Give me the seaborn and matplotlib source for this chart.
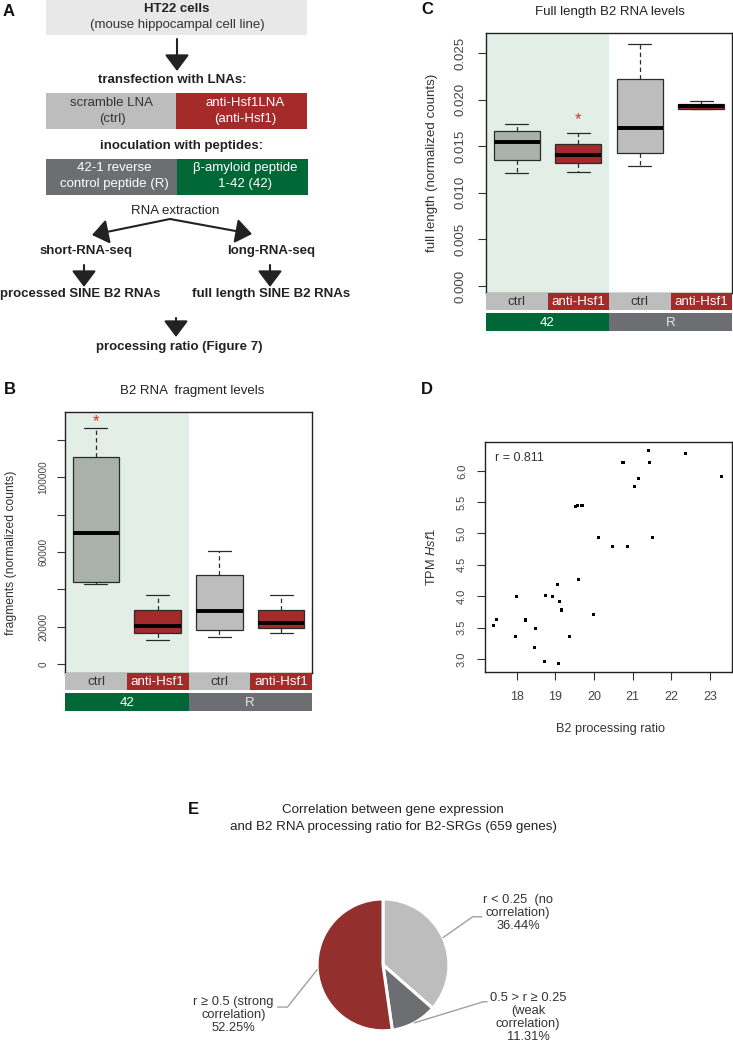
import numpy as np
import pandas as pd
import matplotlib
matplotlib.use("Agg")
import matplotlib.pyplot as plt
import seaborn as sns

# boxes: min, q1, median, q3, max
groups = ["42 ctrl", "42 anti-Hsf1", "R ctrl", "R anti-Hsf1"]
treat_labels = ["ctrl", "anti-Hsf1", "ctrl", "anti-Hsf1"]
peptide_labels = ["42", "R"]

frag_42_ctrl = [43200, 44100, 70000, 110500, 126400]
frag_42_anti = [13000, 16800, 20500, 28900, 37300]
frag_R_ctrl = [14500, 18600, 28600, 47500, 60700]
frag_R_anti = [17000, 19300, 22300, 29300, 36800]

full_42_ctrl = [0.01209, 0.01352, 0.01549, 0.01663, 0.01738]
full_42_anti = [0.01227, 0.01316, 0.01409, 0.01520, 0.01638]
full_R_ctrl = [0.01291, 0.01423, 0.01699, 0.02217, 0.02600]
full_R_anti = [0.01900, 0.01903, 0.01928, 0.01949, 0.01981]

# panel D
b2_ratio = [17.40, 17.48, 18.00, 17.98, 18.22, 18.48, 18.45, 18.74, 18.73, 18.92,
            19.06, 19.10, 19.17, 19.07, 19.36, 19.53, 19.58, 19.69, 19.61, 19.99,
            20.12, 20.47, 20.75, 20.87, 21.05, 21.14, 21.42, 21.44, 21.52, 22.36, 23.30]
tpm_hsf1 = [3.53, 3.63, 3.99, 3.35, 3.62, 3.49, 3.18, 4.01, 2.96, 3.99,
            4.18, 3.92, 3.78, 2.93, 3.35, 5.43, 5.45, 5.45, 4.27, 3.71,
            4.94, 4.79, 6.14, 4.79, 5.75, 5.88, 6.32, 6.14, 4.94, 6.27, 5.91]

# panel E
pie_pct = [36.44, 11.31, 52.25]
pie_labels = ["r < 0.25  (no\ncorrelation)\n36.44%",
              "0.5 > r \u2265 0.25\n(weak\ncorrelation)\n11.31%",
              "r \u2265 0.5 (strong\ncorrelation)\n52.25%"]

GREY = "#bdbdbd"
RED = "#a52a2a"
GREEN = "#006837"
DGREY = "#6d6e71"
SHADE = "#e3eee7"

sns.set_style("ticks")
plt.rcParams["font.family"] = ["Liberation Sans", "DejaVu Sans"]
plt.rcParams["mathtext.fontset"] = "custom"
plt.rcParams["mathtext.rm"] = "Liberation Sans"
plt.rcParams["mathtext.it"] = "Liberation Sans:italic"

W, H = 733, 1043
fig = plt.figure(figsize=(W / 100, H / 100), dpi=100)


def box_at(x0, y0, x1, y1):
    # pixel box -> figure fraction
    return [x0 / W, 1 - y1 / H, (x1 - x0) / W, (y1 - y0) / H]


def ftext(px, py, s, **kw):
    fig.text(px / W, 1 - py / H, s, **kw)


def style_axis(ax, ysize, ypad):
    for sp in ax.spines.values():
        sp.set_visible(True)
        sp.set_linewidth(1.0)
        sp.set_color("#222222")
    ax.tick_params(length=6, width=0.8, color="#333333", labelcolor="#444444")
    ax.tick_params(axis="y", labelrotation=90, labelsize=ysize, pad=ypad)
    for lab in ax.get_yticklabels():
        lab.set_va("center")


def box_panel(rect, values, ylim, yticks, ylabels, ysize, ypad, star_x, star_y):
    ax = fig.add_axes(rect)
    df = pd.DataFrame({"group": np.repeat(groups, 5), "value": np.concatenate(values)})
    ax.axvspan(-0.5, 1.5, color=SHADE, lw=0, zorder=0)
    sns.boxplot(data=df, x="group", y="value", hue="group", order=groups,
                hue_order=groups, palette=["#a9b1ab", "#a3292b", GREY, RED],
                saturation=1, whis=(0, 100), width=0.75, linecolor="#2b2b2b",
                linewidth=0.9, legend=False, ax=ax,
                whiskerprops={"linestyle": (0, (3.5, 2.5))},
                medianprops={"color": "black", "linewidth": 2.8})
    ax.set_xlim(-0.5, 3.5)
    ax.set_ylim(*ylim)
    ax.set_xticks([])
    ax.set_xlabel("")
    ax.set_ylabel("")
    ax.set_yticks(yticks)
    ax.set_yticklabels(ylabels)
    style_axis(ax, ysize, ypad)
    ax.text(star_x, star_y, "*", color="#e8262a", ha="center", va="center", fontsize=12)

    # condition strips below the plot
    pos = ax.get_position()
    h1, gap, h2 = 17 / H, 3 / H, 18 / H
    s1 = fig.add_axes([pos.x0, pos.y0 - h1, pos.width, h1])
    s2 = fig.add_axes([pos.x0, pos.y0 - h1 - gap - h2, pos.width, h2])
    for i, lab in enumerate(treat_labels):
        is_ctrl = lab == "ctrl"
        s1.axvspan(i - 0.5, i + 0.5, color=GREY if is_ctrl else RED, lw=0)
        s1.text(i, 0.45, lab, ha="center", va="center", fontsize=9.6,
                color="#333333" if is_ctrl else "white")
    for j, lab in enumerate(peptide_labels):
        s2.axvspan(2 * j - 0.5, 2 * j + 1.5, color=GREEN if j == 0 else DGREY, lw=0)
        s2.text(2 * j + 0.5, 0.45, lab, ha="center", va="center", fontsize=9.6,
                color="white" if j == 0 else "#e6e6e6")
    for s in (s1, s2):
        s.set_xlim(-0.5, 3.5)
        s.set_ylim(0, 1)
        s.axis("off")
    return ax


# ---- panel A: workflow ----
axA = fig.add_axes([0, 1 - 380 / H, 370 / W, 380 / H])
axA.set_xlim(0, 370)
axA.set_ylim(380, 0)
axA.axis("off")


def rect(x0, y0, x1, y1, col):
    axA.add_patch(plt.Rectangle((x0, y0), x1 - x0, y1 - y0, color=col, lw=0))


def arrow(x0, y0, x1, y1):
    axA.annotate("", xy=(x1, y1), xytext=(x0, y0),
                 arrowprops=dict(arrowstyle="-|>,head_length=0.4,head_width=0.3",
                                 color="#222222", lw=1.5,
                                 mutation_scale=25, shrinkA=0, shrinkB=0))


def atext(x, y, s, bold=False, color="#333333"):
    axA.text(x, y, s, ha="center", va="center", fontsize=9.5,
             fontweight="bold" if bold else "normal", color=color)


rect(46, 0, 307, 35, "#e8e8e9")
atext(177, 9, "HT22 cells", bold=True, color="#222222")
atext(177, 25, "(mouse hippocampal cell line)")
arrow(177, 39, 177, 71)
atext(172, 80, "transfection with LNAs:", bold=True, color="#222222")
rect(46, 93, 176, 129, GREY)
rect(176, 93, 307, 129, RED)
atext(112, 103, "scramble LNA")
atext(112, 119, "(ctrl)")
atext(245, 103, "anti-Hsf1LNA", color="white")
atext(245, 119, "(anti-Hsf1)", color="white")
atext(181, 146, "inoculation with peptides:", bold=True, color="#222222")
rect(46, 159, 177, 195, DGREY)
rect(177, 159, 308, 195, GREEN)
atext(114, 168, "42-1 reverse", color="white")
atext(114, 184, "control peptide (R)", color="white")
atext(245, 168, "\u03b2-amyloid peptide", color="white")
atext(245, 184, "1-42 (42)", color="white")
atext(175, 211, "RNA extraction", color="#222222")
arrow(170, 219, 92, 235)
arrow(170, 219, 252, 234)
atext(86, 251, "short-RNA-seq", bold=True, color="#222222")
atext(271, 251, "long-RNA-seq", bold=True, color="#222222")
arrow(84, 265, 84, 287)
arrow(270, 265, 270, 287)
atext(80, 294, "processed SINE B2 RNAs", bold=True, color="#222222")
atext(271, 294, "full length SINE B2 RNAs", bold=True, color="#222222")
arrow(176, 318, 176, 337)
atext(179, 347, "processing ratio (Figure 7)", bold=True, color="#222222")

# ---- panel B ----
box_panel(box_at(65, 412, 312, 673), [frag_42_ctrl, frag_42_anti, frag_R_ctrl, frag_R_anti],
          (-4600, 134800), [0, 20000, 40000, 60000, 80000, 100000, 120000],
          ["0", "20000", "", "60000", "", "100000", ""], 7.2, 6, 0, 129500)
ftext(192, 391, "B2 RNA  fragment levels", ha="center", va="center", fontsize=9.5, color="#222222")
ftext(11, 553, "fragments (normalized counts)", ha="center", va="center", rotation=90, fontsize=8.7, color="#333333")

# ---- panel C ----
box_panel(box_at(486, 33, 732, 293), [full_42_ctrl, full_42_anti, full_R_ctrl, full_R_anti],
          (-0.00075, 0.02715), [0, 0.005, 0.010, 0.015, 0.020, 0.025],
          ["0.000", "0.005", "0.010", "0.015", "0.020", "0.025"], 9.5, 8, 1, 0.01785)
ftext(610, 12, "Full length B2 RNA levels", ha="center", va="center", fontsize=9.5, color="#222222")
ftext(432, 163, "full length (normalized counts)", ha="center", va="center", rotation=90, fontsize=9.6, color="#333333")

# ---- panel D ----
axD = fig.add_axes(box_at(485, 442, 732, 672))
sns.scatterplot(x=b2_ratio, y=tpm_hsf1, marker="s", s=5, color="black", edgecolor="none", ax=axD)
axD.set_xlim(17.18, 23.57)
axD.set_ylim(2.79, 6.46)
axD.set_xticks([18, 19, 20, 21, 22, 23])
axD.set_yticks([3.0, 3.5, 4.0, 4.5, 5.0, 5.5, 6.0])
axD.set_yticklabels(["3.0", "3.5", "4.0", "4.5", "5.0", "5.5", "6.0"])
style_axis(axD, 8, 7)
axD.tick_params(axis="x", labelsize=9, pad=8)
axD.text(0.04, 0.93, "r = 0.811", transform=axD.transAxes, ha="left", va="center", fontsize=9, color="#333333")
ftext(610, 729, "B2 processing ratio", ha="center", va="center", fontsize=9.2, color="#333333")
ftext(432, 557, "TPM $\\mathit{Hsf1}$", ha="center", va="center", rotation=90, fontsize=9.2, color="#333333")

# ---- panel E ----
axE = fig.add_axes(box_at(158.6, 866, 607.4, 1042))
wedges, _ = axE.pie(pie_pct, colors=[GREY, DGREY, "#93302d"], startangle=90,
                    counterclock=False, radius=1,
                    wedgeprops=dict(edgecolor="white", linewidth=2.2))
axE.set_xlim(-3.4, 3.4)
axE.set_ylim(-1.17, 1.5)
elbows = [[(1.36, 0.73), (1.5, 0.73)], [(1.52, -0.56), (1.58, -0.56)], [(-1.45, -0.64), (-1.6, -0.64)]]
text_pos = [(2.05, 0.79), (2.2, -0.80), (-2.27, -0.76)]
for w, pts, tp, lab in zip(wedges, elbows, text_pos, pie_labels):
    ang = np.deg2rad((w.theta1 + w.theta2) / 2)
    xs = [np.cos(ang)] + [p[0] for p in pts]
    ys = [np.sin(ang)] + [p[1] for p in pts]
    axE.plot(xs, ys, color="#a0a0a0", lw=1.0, clip_on=False)
    axE.text(tp[0], tp[1], lab, ha="center", va="center", fontsize=9.3,
             color="#333333", linespacing=1.12)
ftext(393, 810, "Correlation between gene expression", ha="center", va="center", fontsize=9.6, color="#222222")
ftext(393, 827, "and B2 RNA processing ratio for B2-SRGs (659 genes)", ha="center", va="center", fontsize=9.6, color="#222222")

# panel letters
for lab, px, py in [("A", 9, 12), ("B", 10, 390), ("C", 427, 10), ("D", 427, 390), ("E", 193, 809)]:
    ftext(px, py, lab, ha="center", va="center", fontsize=12, fontweight="bold", color="#111111")

fig.savefig("out.png", dpi=100)
